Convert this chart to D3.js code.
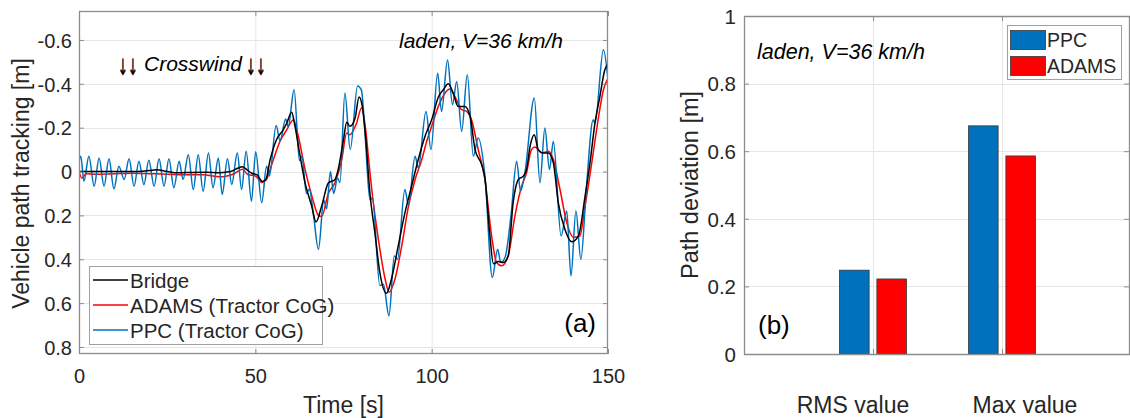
<!DOCTYPE html>
<html><head><meta charset="utf-8">
<script src="https://cdn.jsdelivr.net/npm/d3@7"></script>
<style>
body{margin:0;background:#fff}
svg{display:block}
text{font-family:"Liberation Sans",Arial,Helvetica,sans-serif}
</style>
</head><body>
<svg id="c" width="1130" height="418"></svg>
<script>
// ---------- DATA ----------
const timeBridge = [0,5,10,15,20,22,25,28,32,36,40,43,45,46.3,47.5,49,50.5,52,53,54.2,56,57.9,58.9,60.3,61.2,62.7,64.1,66,67.2,68.8,70.7,72.6,73.5,75,75.9,76.8,78.3,79.4,80.3,81.3,82.5,83.9,85.3,87.2,88.6,90.5,92.4,94.3,96.2,98.1,100,101.9,103.3,104.7,106.1,107.5,109.4,110.9,112.3,114.2,115.1,116.5,117.5,118.9,120.3,121.7,123.1,124.6,126,126.9,127.9,129.1,130.2,131.7,133.1,134.5,135.9,137.8,139.7,141.6,143.5,144.9,146.3,147.7,149.1,150];
const bridge = [0,0,0,0,-0.005,-0.008,0,0.006,0.004,0.003,0.005,0,-0.015,-0.022,-0.01,0.008,0.015,0.045,0.035,-0.054,-0.145,-0.19,-0.22,-0.27,-0.21,-0.07,0.052,0.158,0.23,0.158,0.052,0.036,-0.01,-0.145,-0.225,-0.206,-0.244,-0.34,-0.3,-0.15,0.1,0.28,0.46,0.555,0.49,0.34,0.19,0.067,-0.055,-0.16,-0.236,-0.34,-0.373,-0.4,-0.358,-0.297,-0.297,-0.252,-0.1,-0.03,0.03,0.29,0.42,0.41,0.415,0.385,0.142,0.036,0.021,-0.009,-0.115,-0.168,-0.1,-0.085,-0.085,-0.04,0.142,0.264,0.32,0.294,0.112,-0.04,-0.221,-0.342,-0.464,-0.49];

const timeAdams = [0,0.8,2,5,10,15,20,25,30,35,40,42,44,46.3,48,50,51.8,53,55.1,57,58.9,60.8,62.2,64.1,66,67.9,68.8,70.7,72.6,74.5,75.9,76.8,78.7,80.1,81.3,82.1,83,84.9,86.8,87.9,89.6,91.5,93.4,95.3,97.2,98.6,100,101.9,103.8,105.2,106.6,108.5,109.9,111.3,113.2,115.1,117,118.4,119.8,121.7,123.6,125.5,126.9,128.3,129.3,131.2,133.1,134.5,136.4,138.3,140.2,142,143.5,145.4,147.2,148.7,150];
const adams = [0,0.03,0.01,0.012,0.01,0.008,0.01,0.012,0.015,0.015,0.024,0.02,0.01,-0.01,0.015,0.02,0.05,0.04,-0.054,-0.138,-0.19,-0.236,-0.16,-0.01,0.11,0.2,0.205,0.1,0.05,-0.054,-0.176,-0.168,-0.22,-0.29,-0.19,-0.06,0.08,0.31,0.49,0.55,0.49,0.34,0.16,0.036,-0.055,-0.138,-0.206,-0.297,-0.358,-0.376,-0.342,-0.282,-0.274,-0.236,-0.1,0.036,0.294,0.415,0.43,0.385,0.203,0.067,0.006,-0.1,-0.112,-0.085,-0.092,-0.055,0.082,0.233,0.3,0.294,0.158,-0.04,-0.236,-0.373,-0.425];

const timePPC = [0,0.5,1.4,2.8,4.3,5.7,7.1,8.5,9.9,11.3,12.8,14.2,15.6,17,18.4,19.8,21.3,22.7,24.1,25.5,26.9,28.4,29.5,31,32.4,33.8,35.2,36.7,38,39.5,40.6,42.1,43.3,44.9,46.1,47.4,48.9,50.1,51.8,53.2,54,55.9,57,58.6,59.3,61,62.5,63.2,64.5,65.3,66.5,67.9,69.4,70.2,71.3,72.2,73.3,74,75.4,76.9,79,80.1,81,82.5,83.2,85.3,86.3,87.9,89.4,90.3,92.4,93.4,95.3,96.2,98.4,99.8,101.7,102.8,104.5,105.9,107.1,108.5,110.1,111.8,113.2,115.1,117.2,118.7,119.6,120.8,122.5,124.1,125.2,126.5,129.1,130.7,132.1,133.4,134.5,136.7,138.3,139.5,140.9,142.3,143.9,145.8,146.3,148.7,150];
const ppc = [-0.05,-0.07,0.044,-0.07,0.067,-0.062,0.067,-0.058,0.079,-0.024,0.036,-0.058,0.067,-0.047,0.059,-0.052,0.067,-0.058,0.067,-0.058,0.074,-0.047,0.036,-0.077,0.082,-0.077,0.09,-0.085,0.074,-0.062,0.104,-0.058,0.059,-0.085,0.082,-0.092,0.135,-0.09,0.142,-0.024,0.02,-0.21,-0.14,-0.24,-0.205,-0.373,-0.05,-0.07,0.1,0.08,0.2,0.355,0.13,0.17,0.0,0.1,0.03,0.05,-0.358,-0.1,-0.39,-0.37,-0.2,0.13,0.12,0.52,0.514,0.658,0.385,0.4,0.082,0.15,-0.07,-0.017,-0.274,-0.1,-0.448,-0.274,-0.509,-0.305,-0.41,-0.183,-0.441,-0.07,-0.153,0.02,0.483,0.354,0.415,0.392,0.2,-0.047,0.09,-0.002,-0.335,0.051,-0.199,-0.009,-0.138,0.294,0.18,0.476,0.18,0.4,0.067,-0.236,-0.22,-0.555,-0.418];

const xTicksLeft = [0, 50, 100, 150];
const yTicksLeft = [-0.6, -0.4, -0.2, 0, 0.2, 0.4, 0.6, 0.8];
const yTickLabelsLeft = ["-0.6", "-0.4", "-0.2", "0", "0.2", "0.4", "0.6", "0.8"];
const seriesNames = ["Bridge", "ADAMS (Tractor CoG)", "PPC (Tractor CoG)"];

const categories = ["RMS value", "Max value"];
const barPPC = [0.248, 0.675];
const barADAMS = [0.222, 0.586];
const barNames = ["PPC", "ADAMS"];
const yTicksRight = [0, 0.2, 0.4, 0.6, 0.8, 1];
const yTickLabelsRight = ["0", "0.2", "0.4", "0.6", "0.8", "1"];

// ---------- STYLE ----------
const C_BLUE = "#0072BD", C_RED = "#FF0000", C_BLACK = "#000000";
const GRID = "#e6e6e6", AXIS = "#8c8c8c", TICKTXT = "#262626";

const svg = d3.select("#c");

function styleAxis(g, fs) {
  g.select(".domain").remove();
  g.selectAll(".tick line").attr("stroke", AXIS).attr("stroke-width", 1);
  g.selectAll(".tick text").attr("fill", TICKTXT).style("font-size", fs + "px")
    .style("font-family", '"Liberation Sans",Arial,sans-serif');
}

// ================= LEFT CHART =================
const L = {x0: 79, x1: 608, y0: 11, y1: 354};
const xL = d3.scaleLinear().domain([0, 150]).range([L.x0, L.x1]);
const yL = d3.scaleLinear().domain([-0.732, 0.832]).range([L.y0, L.y1]);

const gL = svg.append("g");
gL.selectAll(".gx").data(xTicksLeft.filter(d => d > 0 && d < 150)).enter().append("line")
  .attr("x1", d => xL(d) + 0.5).attr("x2", d => xL(d) + 0.5).attr("y1", L.y0).attr("y2", L.y1)
  .attr("stroke", GRID).attr("stroke-width", 1);
gL.selectAll(".gy").data(yTicksLeft).enter().append("line")
  .attr("y1", d => Math.round(yL(d)) + 0.5).attr("y2", d => Math.round(yL(d)) + 0.5)
  .attr("x1", L.x0).attr("x2", L.x1)
  .attr("stroke", GRID).attr("stroke-width", 1);

svg.append("clipPath").attr("id", "clipL").append("rect")
  .attr("x", L.x0).attr("y", L.y0).attr("width", L.x1 - L.x0).attr("height", L.y1 - L.y0);

const lineGen = d3.line().x(d => xL(d[0])).y(d => yL(d[1])).curve(d3.curveMonotoneX);
const gLines = gL.append("g").attr("clip-path", "url(#clipL)");
gLines.append("path").datum(d3.zip(timeAdams, adams)).attr("d", lineGen)
  .attr("fill", "none").attr("stroke", C_RED).attr("stroke-width", 1.5);
gLines.append("path").datum(d3.zip(timePPC, ppc)).attr("d", lineGen)
  .attr("fill", "none").attr("stroke", C_BLUE).attr("stroke-width", 1.5);
gLines.append("path").datum(d3.zip(timeBridge, bridge)).attr("d", lineGen)
  .attr("fill", "none").attr("stroke", C_BLACK).attr("stroke-width", 1.5);

const axL = gL.append("g").attr("transform", `translate(${L.x0},0)`)
  .call(d3.axisLeft(yL).tickValues(yTicksLeft).tickSizeInner(-5).tickSizeOuter(0).tickPadding(7)
    .tickFormat((d, i) => yTickLabelsLeft[i]));
styleAxis(axL, 20);
axL.selectAll(".tick text").attr("dy", "0.36em");
const axLR = gL.append("g").attr("transform", `translate(${L.x1},0)`)
  .call(d3.axisRight(yL).tickValues(yTicksLeft).tickSizeInner(-5).tickSizeOuter(0).tickFormat(""));
styleAxis(axLR, 20);
const axLB = gL.append("g").attr("transform", `translate(0,${L.y1})`)
  .call(d3.axisBottom(xL).tickValues(xTicksLeft).tickSizeInner(-5).tickSizeOuter(0).tickPadding(15)
    .tickFormat(d3.format("d")));
styleAxis(axLB, 20);
const axLT = gL.append("g").attr("transform", `translate(0,${L.y0})`)
  .call(d3.axisTop(xL).tickValues(xTicksLeft).tickSizeInner(-5).tickSizeOuter(0).tickFormat(""));
styleAxis(axLT, 20);
gL.append("rect").attr("x", L.x0 + 0.5).attr("y", L.y0 + 0.5)
  .attr("width", L.x1 - L.x0 - 1).attr("height", L.y1 - L.y0 - 1)
  .attr("fill", "none").attr("stroke", AXIS).attr("stroke-width", 1.3);

gL.append("text").attr("x", (L.x0 + L.x1) / 2).attr("y", 413).attr("text-anchor", "middle")
  .style("font-size", "23px").attr("fill", TICKTXT).text("Time [s]");
gL.append("text").attr("transform", `translate(29,${(L.y0 + L.y1) / 2 + 1}) rotate(-90)`)
  .attr("text-anchor", "middle").style("font-size", "23px").attr("fill", TICKTXT)
  .text("Vehicle path tracking [m]");

// annotations
[118, 246].forEach(ax => {
  gL.append("text").attr("transform", `translate(${ax},75) scale(0.85,1.6)`)
    .style("font-size", "14px").style("font-family", '"DejaVu Sans",sans-serif')
    .attr("fill", "#000").attr("stroke", "#000").attr("stroke-width", 0.35)
    .text("\u2193\u2193");
});
gL.append("text").attr("x", 144).attr("y", 71).style("font-size", "21px").style("font-style", "italic")
  .attr("fill", "#000").text("Crosswind");
gL.append("text").attr("x", 399).attr("y", 48).style("font-size", "21px").style("font-style", "italic")
  .attr("fill", "#000").text("laden, V=36 km/h");
gL.append("text").attr("x", 596).attr("y", 332).attr("text-anchor", "end").style("font-size", "26px")
  .attr("fill", "#000").text("(a)");

// legend
const legL = gL.append("g");
legL.append("rect").attr("x", 89.5).attr("y", 266.5).attr("width", 233).attr("height", 78)
  .attr("fill", "#fff").attr("stroke", "#a0a0a0").attr("stroke-width", 1);
const legColors = [C_BLACK, C_RED, C_BLUE];
seriesNames.forEach((n, i) => {
  const yy = 280 + i * 25;
  legL.append("line").attr("x1", 93).attr("x2", 128).attr("y1", yy).attr("y2", yy)
    .attr("stroke", legColors[i]).attr("stroke-width", 1.5);
  legL.append("text").attr("x", 130).attr("y", yy + 7.5).style("font-size", "20.5px")
    .attr("fill", TICKTXT).text(n);
});

// ================= RIGHT CHART =================
const R = {x0: 744, x1: 1130, y0: 16, y1: 354};
const xR = d3.scaleLinear().domain([0, 3]).range([R.x0, R.x1 + 1]);
const yR = d3.scaleLinear().domain([0, 1]).range([R.y1, R.y0]);
const gR = svg.append("g");
gR.selectAll(".gx").data([1, 2]).enter().append("line")
  .attr("x1", d => Math.round(xR(d)) + 0.5).attr("x2", d => Math.round(xR(d)) + 0.5)
  .attr("y1", R.y0).attr("y2", R.y1).attr("stroke", GRID);
gR.selectAll(".gy").data(yTicksRight.filter(d => d > 0 && d < 1)).enter().append("line")
  .attr("y1", d => Math.round(yR(d)) + 0.5).attr("y2", d => Math.round(yR(d)) + 0.5)
  .attr("x1", R.x0).attr("x2", R.x1).attr("stroke", GRID);

const barW = 0.23, barOff = 0.145;
const barData = [];
categories.forEach((c, i) => {
  barData.push({cat: i + 1, v: barPPC[i], off: -barOff, color: C_BLUE});
  barData.push({cat: i + 1, v: barADAMS[i], off: barOff, color: C_RED});
});
gR.selectAll(".bar").data(barData).enter().append("rect")
  .attr("x", d => xR(d.cat + d.off - barW / 2))
  .attr("width", d => xR(barW) - xR(0))
  .attr("y", d => yR(d.v)).attr("height", d => yR(0) - yR(d.v))
  .attr("fill", d => d.color).attr("stroke", "#3a3a3a").attr("stroke-width", 0.8);

const axR = gR.append("g").attr("transform", `translate(${R.x0},0)`)
  .call(d3.axisLeft(yR).tickValues(yTicksRight).tickSizeInner(-5).tickSizeOuter(0).tickPadding(8)
    .tickFormat((d, i) => yTickLabelsRight[i]));
styleAxis(axR, 20.5);
axR.selectAll(".tick text").attr("dy", "0.36em");
const axRR = gR.append("g").attr("transform", `translate(${R.x1 - 1},0)`)
  .call(d3.axisRight(yR).tickValues(yTicksRight).tickSizeInner(-5).tickSizeOuter(0).tickFormat(""));
styleAxis(axRR, 20);
const axRB = gR.append("g").attr("transform", `translate(0,${R.y1})`)
  .call(d3.axisBottom(xR).tickValues([1, 2]).tickSizeInner(-5).tickSizeOuter(0).tickFormat(""));
styleAxis(axRB, 20);
const axRT = gR.append("g").attr("transform", `translate(0,${R.y0})`)
  .call(d3.axisTop(xR).tickValues([1, 2]).tickSizeInner(-5).tickSizeOuter(0).tickFormat(""));
styleAxis(axRT, 20);
gR.append("path").attr("d", `M${R.x0 + 0.5},${R.y1 + 0.5}V${R.y0 + 0.5}H${R.x1 - 0.5}V${R.y1 + 0.5}Z`)
  .attr("fill", "none").attr("stroke", AXIS).attr("stroke-width", 1.3);

const catShift = [-20, 23];
categories.forEach((c, i) => {
  gR.append("text").attr("x", xR(i + 1) + catShift[i]).attr("y", 413).attr("text-anchor", "middle")
    .style("font-size", "23px").attr("fill", TICKTXT).text(c);
});
gR.append("text").attr("transform", `translate(698,${(R.y0 + R.y1) / 2}) rotate(-90)`)
  .attr("text-anchor", "middle").style("font-size", "23.5px").attr("fill", TICKTXT)
  .text("Path deviation [m]");
gR.append("text").attr("x", 757).attr("y", 59).style("font-size", "21.5px").style("font-style", "italic")
  .attr("fill", "#000").text("laden, V=36 km/h");
gR.append("text").attr("x", 758).attr("y", 334).style("font-size", "26px").attr("fill", "#000").text("(b)");

const legR = gR.append("g");
legR.append("rect").attr("x", 1007.5).attr("y", 25.5).attr("width", 114).attr("height", 54)
  .attr("fill", "#fff").attr("stroke", "#a0a0a0").attr("stroke-width", 1);
barNames.forEach((n, i) => {
  const yy = 30 + i * 26;
  legR.append("rect").attr("x", 1010.5).attr("y", yy + 0.5).attr("width", 35).attr("height", 19)
    .attr("fill", i === 0 ? C_BLUE : C_RED).attr("stroke", "#3a3a3a").attr("stroke-width", 0.8);
  legR.append("text").attr("x", 1047).attr("y", yy + 17).style("font-size", "19.5px")
    .attr("fill", TICKTXT).text(n);
});
</script>
</body></html>
